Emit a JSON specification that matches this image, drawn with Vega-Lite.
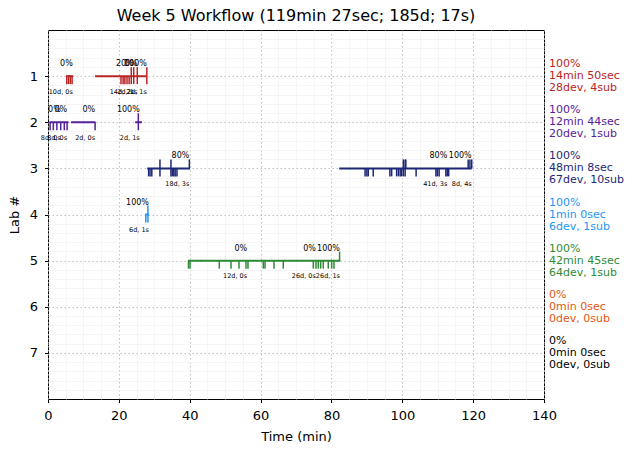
{
  "$schema": "https://vega.github.io/schema/vega-lite/v6.json",
  "autosize": {"type": "none"},
  "width": 496,
  "height": 369,
  "padding": {"left": 48, "top": 30, "right": 90, "bottom": 54},
  "title": {"text": "Week 5 Workflow (119min 27sec; 185d; 17s)", "fontSize": 16, "fontWeight": "normal", "font": "DejaVu Sans", "color": "#000000", "offset": 6},
  "config": {
    "font": "DejaVu Sans",
    "view": {"stroke": "#000000", "strokeWidth": 1},
    "axis": {"labelFont": "DejaVu Sans", "titleFont": "DejaVu Sans", "labelFontSize": 13, "titleFontSize": 13, "titleFontWeight": "normal", "labelColor": "#000000", "titleColor": "#000000", "tickColor": "#000000", "domain": false}
  },
  "datasets": {
    "segs": [
      {"lab": 1, "start": 5.1, "end": 7.1},
      {"lab": 1, "start": 13.3, "end": 27.9},
      {"lab": 2, "start": 0.4, "end": 5.8},
      {"lab": 2, "start": 6.5, "end": 13.4},
      {"lab": 2, "start": 24.6, "end": 26.5},
      {"lab": 3, "start": 28.0, "end": 40.1},
      {"lab": 3, "start": 82.2, "end": 119.6},
      {"lab": 4, "start": 27.4, "end": 28.5},
      {"lab": 5, "start": 39.5, "end": 82.5}
    ],
    "devs": [
      {"lab": 1, "t": 5.3}, {"lab": 1, "t": 5.8}, {"lab": 1, "t": 6.3}, {"lab": 1, "t": 6.8},
      {"lab": 1, "t": 20.6}, {"lab": 1, "t": 21.2}, {"lab": 1, "t": 21.7}, {"lab": 1, "t": 22.3}, {"lab": 1, "t": 22.9},
      {"lab": 1, "t": 23.5}, {"lab": 1, "t": 24.2}, {"lab": 1, "t": 25.2}, {"lab": 1, "t": 27.9},
      {"lab": 2, "t": 0.6}, {"lab": 2, "t": 1.5}, {"lab": 2, "t": 2.5}, {"lab": 2, "t": 3.6}, {"lab": 2, "t": 4.6}, {"lab": 2, "t": 5.4},
      {"lab": 2, "t": 13.3}, {"lab": 2, "t": 25.5},
      {"lab": 3, "t": 28.4}, {"lab": 3, "t": 28.8}, {"lab": 3, "t": 29.3}, {"lab": 3, "t": 31.6}, {"lab": 3, "t": 34.7},
      {"lab": 3, "t": 35.1}, {"lab": 3, "t": 35.5}, {"lab": 3, "t": 35.9}, {"lab": 3, "t": 36.4},
      {"lab": 3, "t": 89.5}, {"lab": 3, "t": 90.0}, {"lab": 3, "t": 90.4}, {"lab": 3, "t": 91.8},
      {"lab": 3, "t": 96.5}, {"lab": 3, "t": 97.0}, {"lab": 3, "t": 98.4}, {"lab": 3, "t": 98.9}, {"lab": 3, "t": 99.4}, {"lab": 3, "t": 99.8},
      {"lab": 3, "t": 100.3}, {"lab": 3, "t": 100.8}, {"lab": 3, "t": 103.9},
      {"lab": 3, "t": 109.5}, {"lab": 3, "t": 109.9}, {"lab": 3, "t": 110.4},
      {"lab": 3, "t": 112.3}, {"lab": 3, "t": 112.7}, {"lab": 3, "t": 113.1},
      {"lab": 4, "t": 27.6}, {"lab": 4, "t": 28.2},
      {"lab": 5, "t": 39.65}, {"lab": 5, "t": 40.08}, {"lab": 5, "t": 48.35}, {"lab": 5, "t": 51.65}, {"lab": 5, "t": 53.91},
      {"lab": 5, "t": 55.88}, {"lab": 5, "t": 56.45}, {"lab": 5, "t": 60.77}, {"lab": 5, "t": 61.25}, {"lab": 5, "t": 63.79},
      {"lab": 5, "t": 66.41}, {"lab": 5, "t": 74.88}, {"lab": 5, "t": 75.64}, {"lab": 5, "t": 76.29}, {"lab": 5, "t": 76.97},
      {"lab": 5, "t": 77.7}, {"lab": 5, "t": 79.11}, {"lab": 5, "t": 80.07}, {"lab": 5, "t": 80.72}
    ],
    "subs": [
      {"lab": 1, "t": 23.5}, {"lab": 1, "t": 24.2}, {"lab": 1, "t": 25.2}, {"lab": 1, "t": 27.9},
      {"lab": 2, "t": 25.5},
      {"lab": 3, "t": 31.6}, {"lab": 3, "t": 34.7}, {"lab": 3, "t": 39.9},
      {"lab": 3, "t": 100.3}, {"lab": 3, "t": 100.8}, {"lab": 3, "t": 101.0},
      {"lab": 3, "t": 118.6}, {"lab": 3, "t": 119.1}, {"lab": 3, "t": 119.6},
      {"lab": 4, "t": 28.2},
      {"lab": 5, "t": 82.3}
    ],
    "groups": [
      {"lab": 1, "t": 7.0, "pct": "0%", "cnt": "10d, 0s"},
      {"lab": 1, "t": 24.2, "pct": "20%", "cnt": "14d, 2s"},
      {"lab": 1, "t": 25.2, "pct": "0%", "cnt": "2d, 1s"},
      {"lab": 1, "t": 27.9, "pct": "100%", "cnt": "2d, 1s"},
      {"lab": 2, "t": 3.6, "pct": "0%", "cnt": "8d, 0s"},
      {"lab": 2, "t": 5.4, "pct": "0%", "cnt": "8d, 0s"},
      {"lab": 2, "t": 13.3, "pct": "0%", "cnt": "2d, 0s"},
      {"lab": 2, "t": 25.9, "pct": "100%", "cnt": "2d, 1s"},
      {"lab": 3, "t": 39.9, "pct": "80%", "cnt": "18d, 3s"},
      {"lab": 3, "t": 112.7, "pct": "80%", "cnt": "41d, 3s"},
      {"lab": 3, "t": 119.6, "pct": "100%", "cnt": "8d, 4s"},
      {"lab": 4, "t": 28.5, "pct": "100%", "cnt": "6d, 1s"},
      {"lab": 5, "t": 56.2, "pct": "0%", "cnt": "12d, 0s"},
      {"lab": 5, "t": 75.6, "pct": "0%", "cnt": "26d, 0s"},
      {"lab": 5, "t": 82.4, "pct": "100%", "cnt": "26d, 1s"}
    ],
    "summary": [
      {"lab": 1, "x": 141.4, "txt": "100%\n14min 50sec\n28dev, 4sub"},
      {"lab": 2, "x": 141.4, "txt": "100%\n12min 44sec\n20dev, 1sub"},
      {"lab": 3, "x": 141.4, "txt": "100%\n48min 8sec\n67dev, 10sub"},
      {"lab": 4, "x": 141.4, "txt": "100%\n1min 0sec\n6dev, 1sub"},
      {"lab": 5, "x": 141.4, "txt": "100%\n42min 45sec\n64dev, 1sub"},
      {"lab": 6, "x": 141.4, "txt": "0%\n0min 0sec\n0dev, 0sub"},
      {"lab": 7, "x": 141.4, "txt": "0%\n0min 0sec\n0dev, 0sub"}
    ]
  },
  "layer": [
    {
      "data": {"name": "segs"},
      "mark": {"type": "rule", "strokeWidth": 2},
      "encoding": {
        "x": {"field": "start", "type": "quantitative", "title": "Time (min)",
              "scale": {"domain": [0, 140], "nice": false, "zero": false},
              "axis": {"values": [0,5,10,15,20,25,30,35,40,45,50,55,60,65,70,75,80,85,90,95,100,105,110,115,120,125,130,135,140],
                       "tickCount": 200,
                       "labelExpr": "datum.value % 20 === 0 ? format(datum.value, 'd') : ''",
                       "grid": true,
                       "gridColor": {"condition": {"test": "datum.value % 20 === 0", "value": "#b0b0b0"}, "value": "#f0f0f0"},
                       "gridDash": {"condition": {"test": "datum.value % 20 === 0", "value": [1.5, 2.5]}, "value": [1, 0]},
                       "gridWidth": 0.8,
                       "tickSize": {"condition": {"test": "datum.value % 20 === 0", "value": 3.5}, "value": 0},
                       "labelPadding": 7, "titlePadding": 8, "labelFlush": false, "labelOverlap": false}},
        "x2": {"field": "end"},
        "y": {"field": "lab", "type": "quantitative", "title": "Lab #",
              "scale": {"domain": [0, 8], "reverse": true, "nice": false, "zero": false},
              "axis": {"values": [0.2,0.4,0.6,0.8,1,1.2,1.4,1.6,1.8,2,2.2,2.4,2.6,2.8,3,3.2,3.4,3.6,3.8,4,4.2,4.4,4.6,4.8,5,5.2,5.4,5.6,5.8,6,6.2,6.4,6.6,6.8,7,7.2,7.4,7.6,7.8],
                       "tickCount": 200,
                       "labelExpr": "datum.value % 1 === 0 ? format(datum.value, 'd') : ''",
                       "grid": true,
                       "gridColor": {"condition": {"test": "datum.value % 1 === 0", "value": "#b0b0b0"}, "value": "#f0f0f0"},
                       "gridDash": {"condition": {"test": "datum.value % 1 === 0", "value": [1.5, 2.5]}, "value": [1, 0]},
                       "gridWidth": 0.8,
                       "tickSize": {"condition": {"test": "datum.value % 1 === 0", "value": 3.5}, "value": 0},
                       "labelPadding": 7, "titlePadding": 8, "labelOverlap": false}},
        "color": {"field": "lab", "type": "ordinal", "legend": null,
                  "scale": {"domain": [1,2,3,4,5,6,7], "range": ["#b82525", "#55229a", "#1d2777", "#2196f3", "#2e8b35", "#e6550d", "#000000"]}}
      }
    },
    {
      "data": {"name": "devs"},
      "mark": {"type": "tick", "orient": "vertical", "size": 8, "thickness": 1.5, "yOffset": 4, "opacity": 1},
      "encoding": {
        "x": {"field": "t", "type": "quantitative"},
        "y": {"field": "lab", "type": "quantitative"},
        "color": {"field": "lab", "type": "ordinal", "legend": null}
      }
    },
    {
      "data": {"name": "subs"},
      "mark": {"type": "tick", "orient": "vertical", "size": 9, "thickness": 1.5, "yOffset": -4.5, "opacity": 1},
      "encoding": {
        "x": {"field": "t", "type": "quantitative"},
        "y": {"field": "lab", "type": "quantitative"},
        "color": {"field": "lab", "type": "ordinal", "legend": null}
      }
    },
    {
      "data": {"name": "groups"},
      "mark": {"type": "text", "align": "right", "baseline": "middle", "dy": -12, "fontSize": 8, "color": "#000000"},
      "encoding": {
        "x": {"field": "t", "type": "quantitative"},
        "y": {"field": "lab", "type": "quantitative"},
        "text": {"field": "pct", "type": "nominal"}
      }
    },
    {
      "data": {"name": "groups"},
      "mark": {"type": "text", "align": "right", "baseline": "middle", "dy": 15.5, "fontSize": 6.5, "color": "#000000"},
      "encoding": {
        "x": {"field": "t", "type": "quantitative"},
        "y": {"field": "lab", "type": "quantitative"},
        "text": {"field": "cnt", "type": "nominal"}
      }
    },
    {
      "data": {"name": "summary"},
      "mark": {"type": "text", "align": "left", "baseline": "middle", "dy": -12, "fontSize": 11, "lineHeight": 12, "lineBreak": "\n"},
      "encoding": {
        "x": {"field": "x", "type": "quantitative"},
        "y": {"field": "lab", "type": "quantitative"},
        "text": {"field": "txt", "type": "nominal"},
        "color": {"field": "lab", "type": "ordinal", "legend": null}
      }
    }
  ]
}
